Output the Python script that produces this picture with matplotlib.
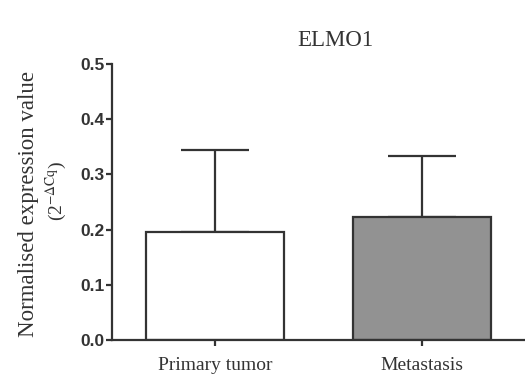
import matplotlib
matplotlib.use("Agg")
import matplotlib.pyplot as plt

categories = ["Primary tumor", "Metastasis"]
means = [0.195, 0.222]
errors = [0.150, 0.111]
bar_colors = ["#ffffff", "#929292"]
yticks = [0.0, 0.1, 0.2, 0.3, 0.4, 0.5]
ytick_labels = ["0.0", "0.1", "0.2", "0.3", "0.4", "0.5"]
title = "ELMO1"

plt.rcParams['mathtext.fontset'] = 'stix'
serif = ['Liberation Serif', 'DejaVu Serif']
ink = '#333333'

fig = plt.figure(figsize=(5.25, 3.9), dpi=100)
ax = fig.add_axes([0.2133, 0.128, 0.787, 0.708])

x = list(range(len(categories)))
ax.bar(x, means, width=0.67, color=bar_colors, edgecolor=ink, linewidth=1.6, zorder=2)
ax.errorbar(x, means, yerr=[[0] * len(errors), errors], fmt='none', ecolor=ink,
            elinewidth=1.6, capsize=24.5, capthick=1.6, zorder=1)

ax.set_xlim(-0.5, 1.5)
ax.set_ylim(0, 0.5)
ax.set_yticks(yticks)
ax.set_yticklabels(ytick_labels, fontsize=12.5, fontweight='bold',
                   family=['Liberation Sans', 'DejaVu Sans'], color=ink)
ax.set_xticks(x)
ax.set_xticklabels(categories, fontsize=14, family=serif, color=ink)
for s in ['top', 'right']:
    ax.spines[s].set_visible(False)
for s in ['left', 'bottom']:
    ax.spines[s].set_linewidth(1.6)
    ax.spines[s].set_color(ink)
ax.tick_params(axis='both', direction='out', length=4.5, width=1.6, color=ink)
ax.tick_params(axis='y', pad=1)
ax.tick_params(axis='x', pad=8)

fig.text(0.638, 0.897, title, ha='center', va='center', fontsize=16.5,
         family=serif, color=ink)
fig.text(0.054, 0.478, "Normalised expression value", rotation=90, ha='center',
         va='center', fontsize=16.5, family=serif, color=ink)
fig.text(0.108, 0.51, r"(2$^{-\Delta\mathrm{Cq}}$)", rotation=90, ha='center',
         va='center', fontsize=14, family=serif, color=ink)

fig.savefig("out.png", dpi=100)
